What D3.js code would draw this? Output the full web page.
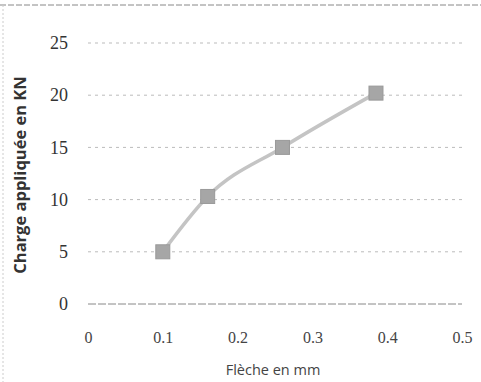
<!DOCTYPE html>
<html><head><meta charset="utf-8">
<script src="https://cdn.jsdelivr.net/npm/d3@7"></script>
<style>body{margin:0;background:#fff;}svg{display:block;}</style>
</head><body>
<svg id="c" width="481" height="382"></svg>
<script>
const xValues = [0.1, 0.16, 0.26, 0.385];
const yValues = [5, 10.3, 15, 20.2];
const xTicks = [0, 0.1, 0.2, 0.3, 0.4, 0.5];
const yTicks = [0, 5, 10, 15, 20, 25];
const xTitle = "Flèche en mm";
const yTitle = "Charge appliquée en KN";

const svg = d3.select("#c");
const x = d3.scaleLinear().domain([0, 0.5]).range([88, 462]);
const y = d3.scaleLinear().domain([0, 25]).range([304, 43]);

// page frame artifacts
svg.append("line").attr("x1",0).attr("x2",481).attr("y1",5).attr("y2",5)
  .attr("stroke","#888").attr("stroke-width",1).attr("stroke-dasharray","6,2");
svg.append("line").attr("x1",3).attr("x2",3).attr("y1",5).attr("y2",382)
  .attr("stroke","#ccc").attr("stroke-width",1).attr("stroke-dasharray","2,2");

// gridlines
svg.append("g").selectAll("line").data(yTicks).join("line")
  .attr("x1", x(0)).attr("x2", x(0.5))
  .attr("y1", d => y(d)).attr("y2", d => y(d))
  .attr("stroke", d => d === 0 ? "#888" : "#bbb")
  .attr("stroke-width", 1)
  .attr("stroke-dasharray", d => d === 0 ? "8,2" : "3,4");

// y tick labels
const yAxis = d3.axisLeft(y).tickValues(yTicks).tickSize(0).tickPadding(0);
const gy = svg.append("g").attr("transform","translate(68,0)").call(yAxis);
gy.select(".domain").remove();
gy.selectAll("text").attr("font-family","Liberation Serif, serif").attr("font-size",18).attr("fill","#333");

// x tick labels
const xAxis = d3.axisBottom(x).tickValues(xTicks).tickSize(0).tickPadding(0).tickFormat(d3.format(".1~f"));
const gx = svg.append("g").attr("transform","translate(0,332)").call(xAxis);
gx.select(".domain").remove();
gx.selectAll("text").attr("font-family","Liberation Serif, serif").attr("font-size",16).attr("fill","#444");

// curve
const pts = xValues.map((v,i)=>[v, yValues[i]]);
svg.append("path").datum(pts)
  .attr("d", d3.line().x(d=>x(d[0])).y(d=>y(d[1])).curve(d3.curveMonotoneX))
  .attr("fill","none").attr("stroke","#c4c4c4").attr("stroke-width",3.5);

// markers
svg.append("g").selectAll("rect").data(pts).join("rect")
  .attr("x", d => x(d[0]) - 7).attr("y", d => y(d[1]) - 7)
  .attr("width", 14).attr("height", 14)
  .attr("fill", "#a6a6a6").attr("stroke","#999").attr("stroke-width",1);

// titles
svg.append("text").attr("x", 273).attr("y", 375).attr("text-anchor","middle")
  .attr("font-family","Open Sans, sans-serif").attr("font-size",14.5).attr("fill","#444")
  .text(xTitle);
svg.append("text").attr("transform","translate(26,175) rotate(-90)").attr("text-anchor","middle")
  .attr("font-family","Open Sans, sans-serif").attr("font-size",16.5).attr("font-weight","bold").attr("fill","#333")
  .text(yTitle);
</script>
</body></html>
